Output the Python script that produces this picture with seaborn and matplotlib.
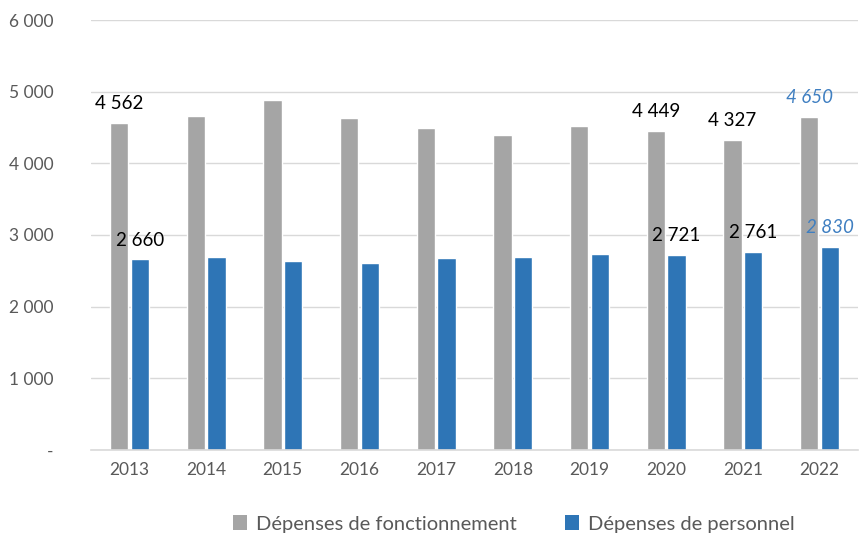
import matplotlib
matplotlib.use("Agg")
import matplotlib.pyplot as plt
import pandas as pd
import seaborn as sns
from matplotlib.patches import Patch

years = ["2013", "2014", "2015", "2016", "2017", "2018", "2019", "2020", "2021", "2022"]
fonctionnement = [4562, 4660, 4880, 4630, 4495, 4390, 4520, 4449, 4327, 4650]
personnel = [2660, 2692, 2636, 2608, 2675, 2690, 2732, 2721, 2761, 2830]
series = ["Dépenses de fonctionnement", "Dépenses de personnel"]
colors = ["#a5a5a5", "#2e75b6"]
yticks = [0, 1000, 2000, 3000, 4000, 5000, 6000]
ytick_labels = ["-", "1 000", "2 000", "3 000", "4 000", "5 000", "6 000"]
# years whose bars carry a value label (2022 is an estimate -> italic blue)
labelled_years = ["2013", "2020", "2021", "2022"]
estimate_years = ["2022"]

df = pd.DataFrame({
    "annee": years * 2,
    "valeur": fonctionnement + personnel,
    "serie": [series[0]] * len(years) + [series[1]] * len(years),
})

sns.set_style("white")
plt.rcParams["font.family"] = ["Lato", "DejaVu Sans"]

fig = plt.figure(figsize=(8.61, 5.38), dpi=100)
ax = fig.add_axes([0.1057, 0.1636, 0.8908, 0.7992])

sns.barplot(data=df, x="annee", y="valeur", hue="serie", hue_order=series,
            palette=colors, width=0.54, gap=0.12, saturation=1,
            errorbar=None, legend=False, ax=ax)

ax.set_ylim(0, 6000)
ax.set_xlim(-0.5, len(years) - 0.5)
ax.set_yticks(yticks)
ax.set_yticklabels(ytick_labels)
ax.yaxis.grid(True, color="#d9d9d9", linewidth=1)
ax.set_axisbelow(True)
for side in ["top", "right", "left"]:
    ax.spines[side].set_visible(False)
ax.spines["bottom"].set_color("#d9d9d9")
ax.spines["bottom"].set_linewidth(1.2)
ax.tick_params(axis="both", length=0, labelsize=12.5, labelcolor="#595959")
ax.tick_params(axis="y", pad=27)
ax.tick_params(axis="x", pad=9)
ax.set_xlabel("")
ax.set_ylabel("")

for container, values in zip(ax.containers, [fonctionnement, personnel]):
    for bar, year, val in zip(container, years, values):
        if year not in labelled_years:
            continue
        est = year in estimate_years
        txt = f"{val:,}".replace(",", " ")
        ax.text(bar.get_x() + bar.get_width() / 2, val + 150, txt,
                ha="center", va="bottom", fontsize=13.5,
                color="#3f7fc1" if est else "#000000",
                style="italic" if est else "normal")

handles = [Patch(facecolor=c, edgecolor="none") for c in colors]
fig.legend(handles, series, loc="center", bbox_to_anchor=(0.597, 0.026),
           ncol=2, frameon=False, fontsize=14.5, labelcolor="#595959",
           handlelength=0.7, handleheight=0.7, handletextpad=0.45,
           columnspacing=2.4)

fig.savefig("out.png", dpi=100)
